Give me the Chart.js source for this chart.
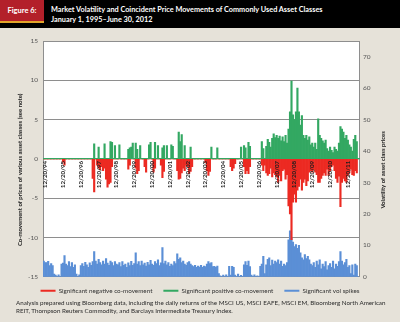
<!DOCTYPE html>
<html>
<head>
<meta charset="utf-8">
<script src="https://cdn.jsdelivr.net/npm/chart.js@4.4.0/dist/chart.umd.min.js"></script>
<style>
  html, body { margin: 0; padding: 0; }
  body {
    width: 400px; height: 322px; overflow: hidden; position: relative;
    background: #e6e2d9; font-family: Lato, "Open Sans", sans-serif;
  }
  .header { position: absolute; left: 0; top: 0; width: 400px; height: 28px; background: #000; }
  .fig {
    position: absolute; left: 0; top: 0; width: 44px; height: 21px;
    background: #b3202a; border-bottom: 2px solid #e2a52b;
    color: #fff; font-weight: bold; font-size: 7.5px; line-height: 21px; text-align: center;
  }
  .title {
    position: absolute; left: 51px; top: 5px; color: #fff;
    font-weight: bold; font-size: 7.3px; line-height: 10px; white-space: nowrap;
  }
  .chartbox { position: absolute; left: 0; top: 29px; width: 400px; height: 275px; }
  .note {
    position: absolute; left: 16px; top: 299px;
    font-size: 6.25px; line-height: 7.6px; color: #2a2a2a; white-space: nowrap;
  }
</style>
</head>
<body>
<div class="header">
  <div class="fig">Figure 6:</div>
  <div class="title">Market Volatility and Coincident Price Movements of Commonly Used Asset Classes<br>January 1, 1995–June 30, 2012</div>
</div>
<div class="chartbox"><canvas id="chart" width="400" height="275"></canvas></div>
<div class="note">Analysis prepared using Bloomberg data, including the daily returns of the MSCI US, MSCI EAFE, MSCI EM, Bloomberg North American<br>REIT, Thompson Reuters Commodity, and Barclays Intermediate Treasury Index.</div>

<script>
// monthly buckets, Nov 1994 .. Jul 2012
const months = [];
for (let y = 1994; y <= 2012; y++) {
  for (let m = 1; m <= 12; m++) {
    if ((y === 1994 && m < 11) || (y === 2012 && m > 7)) continue;
    months.push(y + '-' + String(m).padStart(2, '0'));
  }
}

const tickLabels = ['12/20/94', '12/20/95', '12/20/96', '12/20/97', '12/20/98', '12/20/99',
  '12/20/00', '12/20/01', '12/20/02', '12/20/03', '12/20/04', '12/20/05', '12/20/06',
  '12/20/07', '12/20/08', '12/20/09', '12/20/10', '12/20/11'];

// co-movement, left axis
const positive = [
  0, 0,
  0, 0, 0, 0, 0, 0, 0, 0, 0, 0, 0, 0,                 // 1995
  0, 0, 0, 0, 0, 0, 0, 0, 0, 0, 0, 0,                 // 1996
  0, 0, 0, 0, 0, 0, 0, 0, 1.9, 0, 0, 1.5,             // 1997
  0, 0, 0, 1.9, 0, 0, 0, 2.2, 2.1, 0, 1.7, 0,         // 1998
  0, 1.8, 0, 0, 0, 0, 0, 1.2, 1.4, 1.5, 2.0, 0,       // 1999
  2.0, 1.2, 0, 1.7, 0, 0, 0, 0, 0, 1.8, 2.1, 0,       // 2000
  0, 2.1, 0, 1.7, 0, 0, 1.4, 1.7, 0, 1.7, 0, 0,       // 2001
  1.8, 1.6, 0, 0, 0, 3.4, 2.2, 3.1, 0, 1.7, 0, 0,     // 2002
  0, 1.5, 0, 0, 0, 0, 0, 0, 0, 0, 0, 0,               // 2003
  0, 0, 0, 1.5, 0, 0, 0, 1.4, 0, 0, 0, 0,             // 2004
  0, 0, 0, 0, 0, 0, 0, 0, 0, 0, 0, 1.5,               // 2005
  0, 1.7, 1.4, 0, 2.1, 1.6, 0, 0, 0, 0, 0, 0,         // 2006
  0, 2.2, 1.3, 0, 1.6, 2.5, 2.1, 1.5, 2.6, 3.2, 2.7, 3.0, // 2007
  2.6, 2.9, 2.3, 2.8, 2.2, 3.0, 2.0, 3.8, 6.0, 9.9, 5.6, 5.0, // 2008
  6.0, 9.0, 6.0, 4.3, 5.5, 3.0, 2.6, 3.0, 2.4, 2.8, 1.8, 2.0, // 2009
  1.5, 2.0, 1.2, 5.1, 3.0, 2.6, 2.3, 2.0, 2.4, 1.3, 1.0, 1.5, // 2010
  1.1, 0.8, 1.5, 1.2, 1.0, 2.0, 4.1, 3.8, 3.4, 2.6, 3.0, 2.4, // 2011
  1.8, 1.5, 1.0, 2.5, 3.0, 2.2, 0                     // 2012
];

const negative = [
  0, 0,
  0, 0, 0, 0, 0, 0, 0, 0, 0, 0, 0, -0.4,                    // 1995
  -0.8, 0, 0, 0, 0, 0, 0, 0, 0, 0, 0, 0,                    // 1996
  0, 0, 0, 0, 0, 0, 0, -2.5, -4.2, 0, -0.8, -1.2,           // 1997
  -1.4, -1.0, -1.5, -1.2, -2.6, -3.6, -3.2, -3.0, -1.0, 0, 0, 0, // 1998
  0, 0, 0, 0, 0, 0, 0, -1.3, -0.8, 0, 0, 0,                 // 1999
  -1.2, -1.9, -1.5, 0, 0, 0, -1.0, -1.7, 0, 0, 0, 0,        // 2000
  -1.7, -1.2, 0, 0, 0, -0.8, -2.4, -1.6, 0, 0, 0, 0,        // 2001
  0, 0, 0, 0, -1.5, -2.6, -2.5, -1.8, -1.2, -1.5, -0.8, -1.0, // 2002
  -1.9, -1.6, -1.0, 0, 0, 0, 0, 0, 0, 0, 0, -0.5,           // 2003
  -1.5, -2.1, -1.6, 0, 0, 0, 0, 0, 0, 0, 0, 0,              // 2004
  0, 0, 0, 0, -1.0, -1.5, -1.2, -0.6, 0, 0, 0, 0,           // 2005
  0, -1.0, -1.9, -1.5, -1.9, -1.0, 0, 0, 0, 0, 0, 0,        // 2006
  0, -0.8, -1.5, -0.8, -1.8, -2.1, -1.9, -1.2, -2.3, -1.8, -2.0, -2.3, // 2007
  -3.0, -2.1, -2.8, -1.5, -1.3, -2.6, -2.0, -6.0, -7.0, -10.3, -5.5, -4.5, // 2008
  -5.5, -4.0, -3.5, -2.6, -4.0, -3.0, -2.6, -3.4, -2.8, -1.7, -1.5, -1.7, // 2009
  -1.4, -1.7, -2.0, -3.0, -3.0, -2.5, -2.1, -1.8, -2.1, -1.3, -2.1, -1.5, // 2010
  -1.0, -0.8, -1.5, -2.5, -3.0, -2.2, -6.1, -3.0, -2.5, -2.8, -3.0, -2.1, // 2011
  -1.8, -1.3, -2.0, -2.1, -1.5, -1.8, 0                     // 2012
];

// volatility, right axis
const volSpikes = [
  5.0, 4.5,
  4.5, 4.9, 3.5, 4.2, 3.5, 0.8, 0.5, 0, 0.6, 0, 4.0, 4.3,   // 1995
  6.7, 4.0, 3.5, 4.8, 3.2, 4.5, 3.0, 3.8, 0.8, 0, 0.6, 3.5, // 1996
  4.2, 3.3, 4.6, 3.8, 3.0, 4.4, 3.6, 4.8, 8.0, 5.0, 4.0, 5.5, // 1997
  4.5, 3.8, 5.0, 4.0, 5.8, 4.3, 3.6, 5.0, 4.5, 3.5, 4.8, 4.0, // 1998
  3.8, 4.5, 3.2, 4.8, 3.6, 4.0, 3.0, 4.4, 3.5, 4.9, 3.6, 4.2, // 1999
  7.6, 4.0, 4.8, 3.5, 5.0, 3.8, 4.3, 3.4, 4.6, 3.8, 5.2, 4.0, // 2000
  3.6, 4.8, 4.2, 5.4, 3.5, 4.4, 9.3, 4.2, 5.0, 3.8, 4.5, 3.3, // 2001
  4.0, 3.5, 4.8, 4.2, 7.3, 5.5, 6.0, 4.5, 5.0, 4.0, 3.6, 4.5, // 2002
  4.8, 4.0, 3.5, 3.2, 3.6, 3.0, 3.4, 3.1, 3.6, 3.0, 3.4, 3.2, // 2003
  4.0, 4.8, 4.2, 4.5, 3.2, 3.3, 3.0, 3.4, 1.0, 0.3, 0, 0.5,   // 2004
  0, 0.6, 0, 3.3, 0.5, 3.3, 3.0, 0.5, 0, 0.8, 0, 0.4,         // 2005
  0, 3.8, 4.8, 3.6, 5.0, 3.2, 0.5, 0, 0.6, 0, 0.3, 0,         // 2006
  3.3, 4.0, 6.5, 1.0, 3.8, 5.5, 6.0, 3.5, 5.3, 4.0, 5.0, 4.5, // 2007
  5.4, 4.0, 5.0, 3.3, 4.0, 3.5, 4.5, 11.7, 14.6, 12.4, 11.0, 9.6, // 2008
  10.2, 9.0, 10.0, 7.6, 6.0, 5.4, 7.0, 5.8, 6.5, 5.4, 4.0, 3.5,   // 2009
  4.5, 3.0, 5.0, 3.8, 5.4, 2.5, 4.0, 3.2, 4.8, 2.2, 3.5, 4.2, // 2010
  3.0, 5.0, 2.5, 4.0, 3.3, 4.8, 8.0, 5.0, 3.8, 4.5, 5.5, 3.0, // 2011
  3.5, 1.0, 3.8, 0.5, 4.0, 3.5, 0                             // 2012
];

const RED = '#ec2a22';
const GREEN = '#33a862';
const BLUE = '#5b8fd6';
const GRID = '#8e8e8e';
const FONT = 'Lato';

const plotBackground = {
  id: 'plotBackground',
  beforeDraw(chart) {
    const { ctx, chartArea: a } = chart;
    ctx.save();
    ctx.fillStyle = '#fff';
    ctx.fillRect(a.left, a.top, a.right - a.left, a.bottom - a.top);
    ctx.restore();
  }
};

// both side titles read bottom-to-top
const sideTitles = {
  id: 'sideTitles',
  afterDraw(chart) {
    const { ctx, chartArea: a } = chart;
    const yMid = (a.top + a.bottom) / 2 + 11;
    ctx.save();
    ctx.font = 'bold 6px ' + FONT;
    ctx.fillStyle = '#222';
    ctx.textAlign = 'center';
    ctx.textBaseline = 'middle';
    [[20, 'Co-movement of prices of various asset classes (see note)'],
     [383, 'Volatility of asset class prices']].forEach(([x, text]) => {
      ctx.save();
      ctx.translate(x, yMid);
      ctx.rotate(-Math.PI / 2);
      ctx.fillText(text, 0, 0);
      ctx.restore();
    });
    ctx.restore();
  }
};

const barStyle = { barPercentage: 1, categoryPercentage: 1, grouped: false, borderWidth: 0 };

new Chart(document.getElementById('chart'), {
  type: 'bar',
  data: {
    labels: months,
    datasets: [
      { label: 'Significant negative co-movement', data: negative, backgroundColor: RED, yAxisID: 'y', order: 1, ...barStyle },
      { label: 'Significant positive co-movement', data: positive, backgroundColor: GREEN, yAxisID: 'y', order: 2, ...barStyle },
      { label: 'Significant vol spikes', data: volSpikes, backgroundColor: BLUE, yAxisID: 'y1', order: 3, ...barStyle }
    ]
  },
  options: {
    responsive: false,
    animation: false,
    layout: { padding: { top: 12, left: 0, right: 0, bottom: 0 } },
    plugins: {
      tooltip: { enabled: false },
      legend: {
        position: 'bottom',
        labels: {
          boxWidth: 15, boxHeight: 2, padding: 11, color: '#333',
          font: { family: FONT, size: 6.3 },
          sort: (a, b) => a.datasetIndex - b.datasetIndex
        }
      }
    },
    scales: {
      x: {
        type: 'category',
        position: { y: 0 },
        offset: true,
        grid: { display: false, drawTicks: false },
        border: { display: true, color: GREEN, width: 1, z: 1 },
        ticks: {
          autoSkip: false, minRotation: 90, maxRotation: 90, padding: 2, z: 1,
          color: '#1e1e1e', font: { family: FONT, size: 6.2, weight: 'bold' },
          callback(value, index) {
            const label = months[index];
            if (!label.endsWith('-12')) return null;
            return tickLabels[+label.slice(0, 4) - 1994];
          }
        }
      },
      y: {
        position: 'left',
        min: -15, max: 15,
        afterFit(scale) { scale.width = 43; },
        grid: {
          drawTicks: false,
          color: ctx => ctx.tick && ctx.tick.value === 0 ? 'rgba(0,0,0,0)' : GRID
        },
        border: { color: GRID },
        ticks: { stepSize: 5, padding: 5, color: '#555', font: { family: FONT, size: 6.5 } }
      },
      y1: {
        position: 'right',
        min: 0, max: 75,
        afterFit(scale) { scale.width = 41; },
        grid: { display: false, drawTicks: false },
        border: { color: GRID },
        ticks: { stepSize: 10, includeBounds: false, padding: 4, color: '#555', font: { family: FONT, size: 6.5 } }
      }
    }
  },
  plugins: [plotBackground, sideTitles]
});
</script>
</body>
</html>
